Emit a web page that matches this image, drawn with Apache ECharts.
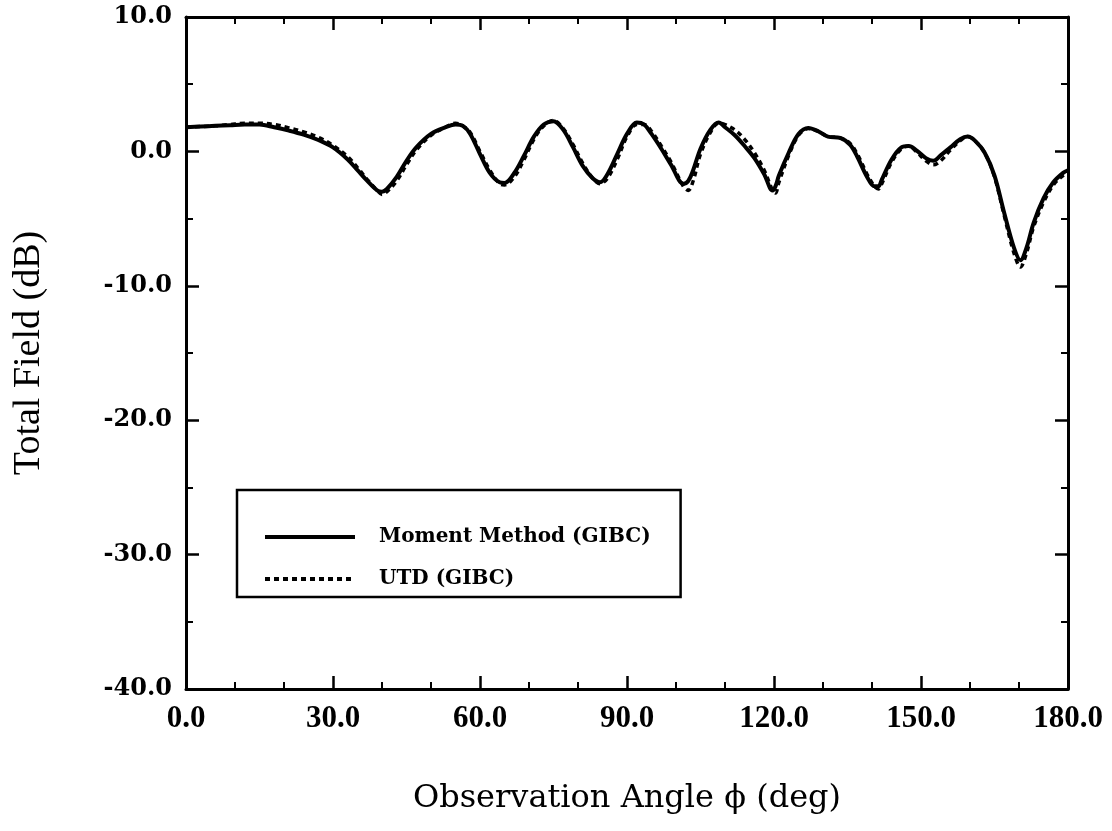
<!DOCTYPE html>
<html>
<head>
<meta charset="utf-8">
<script src="https://cdn.jsdelivr.net/npm/echarts@6/dist/echarts.min.js"></script>
<style>
  html, body { margin: 0; padding: 0; background: #fff; }
  #chart { width: 1112px; height: 831px; }
</style>
</head>
<body>
<div id="chart"></div>
<script>
// observation angle (deg)
const angles = [0, 3, 6, 9, 12, 15, 18, 21, 24, 27, 30, 33, 35, 37, 39, 40, 41, 43, 45, 47, 50, 53, 55, 56.5, 58, 60, 62, 64, 65, 67, 69, 71, 73, 75, 77, 79, 81, 83, 84.5, 86, 88, 90, 92, 93.5, 95, 97, 99, 101.5, 102.5, 103.5, 105, 107, 108.7, 110, 112, 114, 116, 118, 119.7, 120.3, 121, 123, 125, 127, 129, 131, 133.5, 135.5, 137, 139, 140.5, 141.3, 142, 144, 146, 147.5, 149, 151, 152.5, 154, 156, 158, 159.5, 161, 163, 165, 167, 169, 170.3, 171.5, 173, 175, 177, 179, 180]

// total field (dB), moment method (GIBC)
const momentField = [1.8, 1.85, 1.9, 1.95, 2.0, 2.0, 1.8, 1.55, 1.25, 0.85, 0.3, -0.6, -1.4, -2.2, -2.9, -3.0, -2.8, -1.9, -0.7, 0.3, 1.3, 1.8, 2.0, 1.9, 1.3, -0.2, -1.6, -2.3, -2.35, -1.6, -0.3, 1.1, 2.0, 2.25, 1.6, 0.3, -1.1, -2.0, -2.3, -1.7, -0.2, 1.3, 2.15, 2.0, 1.3, 0.2, -1.0, -2.4, -2.2, -1.4, 0.2, 1.6, 2.15, 1.8, 1.2, 0.4, -0.5, -1.7, -2.9, -2.6, -1.8, -0.1, 1.3, 1.75, 1.5, 1.1, 1.0, 0.5, -0.4, -1.9, -2.6, -2.6, -2.1, -0.6, 0.3, 0.4, 0.1, -0.5, -0.7, -0.3, 0.3, 0.9, 1.1, 0.8, -0.1, -1.8, -4.6, -7.2, -8.1, -7.2, -5.3, -3.5, -2.3, -1.6, -1.4]

// total field (dB), UTD (GIBC)
const utdField = [1.8, 1.85, 1.9, 2.0, 2.1, 2.1, 2.0, 1.75, 1.45, 1.05, 0.45, -0.4, -1.2, -2.1, -2.9, -3.2, -3.0, -2.2, -1.0, 0.1, 1.2, 1.8, 2.1, 1.9, 1.4, 0.0, -1.4, -2.4, -2.5, -1.9, -0.6, 0.9, 1.9, 2.3, 1.7, 0.5, -0.9, -2.0, -2.4, -2.0, -0.6, 1.1, 2.0, 2.0, 1.5, 0.4, -0.8, -2.6, -2.9, -2.2, -0.2, 1.4, 2.1, 2.0, 1.6, 0.9, -0.1, -1.4, -2.9, -3.1, -2.3, -0.3, 1.2, 1.7, 1.5, 1.1, 1.0, 0.6, -0.2, -1.7, -2.6, -2.8, -2.4, -0.8, 0.2, 0.4, 0.0, -0.7, -1.0, -0.7, 0.1, 0.8, 1.1, 0.8, -0.1, -1.9, -4.8, -7.6, -8.6, -7.6, -5.6, -3.8, -2.5, -1.8, -1.6]

const xTicks = [0, 30, 60, 90, 120, 150, 180]
const yTicks = [-40, -30, -20, -10, 0, 10]

const chart = echarts.init(document.getElementById('chart'))

const frameAxis = {
  axisLine: { show: true, onZero: false, lineStyle: { color: '#000', width: 3 } },
  axisTick: { show: true, inside: true, length: 13, lineStyle: { color: '#000', width: 2.5 } },
  minorTick: { show: true, length: 7, lineStyle: { color: '#000', width: 2 } },
  splitLine: { show: false }
}

const option = {
  backgroundColor: '#fff',
  animation: false,
  grid: { left: 186, right: 44, top: 17, bottom: 142 },
  legend: {
    orient: 'vertical',
    left: 237,
    top: 490,
    padding: [37, 30, 8, 26],
    itemGap: 22,
    itemWidth: 90,
    itemHeight: 20,
    borderColor: '#000',
    borderWidth: 2.5,
    backgroundColor: '#fff',
    selectedMode: false,
    itemStyle: { opacity: 0 },
    lineStyle: { width: 4 },
    textStyle: {
      color: '#000',
      fontFamily: 'DejaVu Serif',
      fontWeight: 'bold',
      fontSize: 20,
      padding: [0, 0, 0, 19]
    },
    data: ['Moment Method (GIBC)', 'UTD (GIBC)']
  },
  xAxis: [
    {
      type: 'value',
      min: xTicks[0],
      max: xTicks[xTicks.length - 1],
      interval: 30,
      name: 'Observation Angle ϕ (deg)',
      nameLocation: 'middle',
      nameGap: 94,
      nameTextStyle: { color: '#000', fontFamily: 'DejaVu Serif', fontSize: 32 },
      axisLabel: {
        color: '#000',
        fontFamily: 'Liberation Serif',
        fontWeight: 'bold',
        fontSize: 31,
        margin: 14,
        formatter: v => v.toFixed(1)
      },
      minorTick: Object.assign({}, frameAxis.minorTick, { splitNumber: 3 }),
      axisLine: frameAxis.axisLine,
      axisTick: frameAxis.axisTick,
      splitLine: frameAxis.splitLine
    },
    {
      type: 'value',
      position: 'top',
      min: xTicks[0],
      max: xTicks[xTicks.length - 1],
      interval: 30,
      axisLabel: { show: false },
      minorTick: Object.assign({}, frameAxis.minorTick, { splitNumber: 3 }),
      axisLine: frameAxis.axisLine,
      axisTick: frameAxis.axisTick,
      splitLine: frameAxis.splitLine
    }
  ],
  yAxis: [
    {
      type: 'value',
      min: yTicks[0],
      max: yTicks[yTicks.length - 1],
      interval: 10,
      name: 'Total Field (dB)',
      nameLocation: 'middle',
      nameGap: 138,
      nameTextStyle: { color: '#000', fontFamily: 'Liberation Serif', fontSize: 38 },
      axisLabel: {
        color: '#000',
        fontFamily: 'DejaVu Serif',
        fontWeight: 'bold',
        fontSize: 24,
        margin: 14,
        formatter: v => v.toFixed(1)
      },
      minorTick: Object.assign({}, frameAxis.minorTick, { splitNumber: 2 }),
      axisLine: frameAxis.axisLine,
      axisTick: frameAxis.axisTick,
      splitLine: frameAxis.splitLine
    },
    {
      type: 'value',
      position: 'right',
      min: yTicks[0],
      max: yTicks[yTicks.length - 1],
      interval: 10,
      axisLabel: { show: false },
      minorTick: Object.assign({}, frameAxis.minorTick, { splitNumber: 2 }),
      axisLine: frameAxis.axisLine,
      axisTick: frameAxis.axisTick,
      splitLine: frameAxis.splitLine
    }
  ],
  series: [
    {
      name: 'UTD (GIBC)',
      type: 'line',
      smooth: 0.35,
      symbol: 'none',
      lineStyle: { color: '#000', width: 3.5, type: [5, 4] },
      itemStyle: { color: '#000' },
      data: angles.map((a, i) => [a, utdField[i]])
    },
    {
      name: 'Moment Method (GIBC)',
      type: 'line',
      smooth: 0.35,
      symbol: 'none',
      lineStyle: { color: '#000', width: 4 },
      itemStyle: { color: '#000' },
      data: angles.map((a, i) => [a, momentField[i]])
    }
  ]
}

chart.setOption(option)
</script>
</body>
</html>
